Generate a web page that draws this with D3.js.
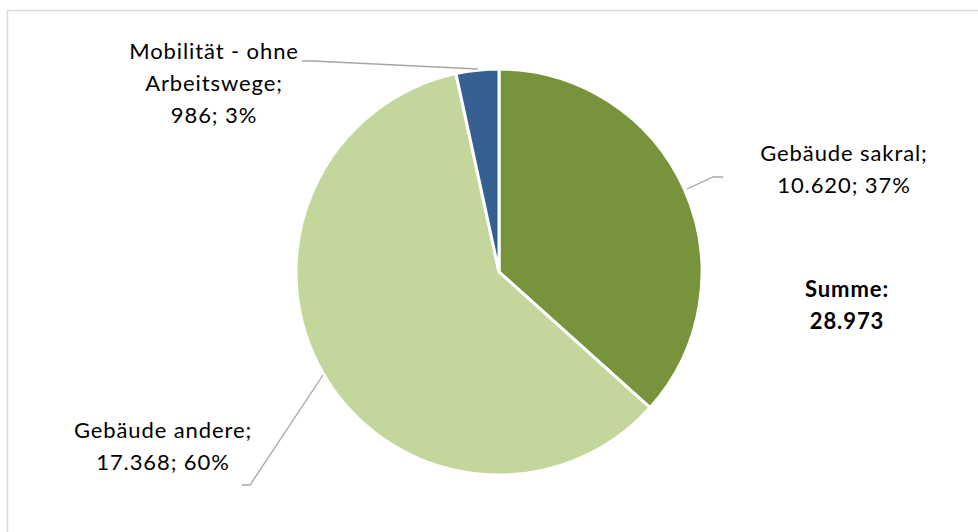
<!DOCTYPE html>
<html>
<head>
<meta charset="utf-8">
<script src="https://cdn.jsdelivr.net/npm/d3@7/dist/d3.min.js"></script>
<style>
  html, body { margin: 0; padding: 0; background: #fff; }
  svg { display: block; }
  text { font-family: Lato, "Open Sans", sans-serif; fill: #000; }
</style>
</head>
<body>
<svg id="chart" width="978" height="532"></svg>
<script>
// Emissions by category (t CO2)
const categories = ["Gebäude sakral", "Gebäude andere", "Mobilität - ohne Arbeitswege"];
const values = [10620, 17368, 986];
const percents = [37, 60, 3];
const valueLabels = ["10.620", "17.368", "986"];
const colors = ["#77933c", "#c3d69b", "#376092"];
const totalLabel = ["Summe:", "28.973"];

// Label text lines per slice
const labelLines = [
  ["Gebäude sakral;", valueLabels[0] + "; " + percents[0] + "%"],
  ["Gebäude andere;", valueLabels[1] + "; " + percents[1] + "%"],
  ["Mobilität - ohne", "Arbeitswege;", valueLabels[2] + "; " + percents[2] + "%"]
];
const labelPos = [
  { x: 844, y: 161 },
  { x: 163, y: 438 },
  { x: 214, y: 59 }
];
const leaders = [
  [[723, 177], [713, 177], [687, 189]],
  [[242, 485], [250, 485], [323, 375]],
  [[302, 61], [313, 61], [478, 69]]
];

const svg = d3.select("#chart");

// chart area frame
svg.append("rect")
  .attr("x", 7.5).attr("y", 10.5)
  .attr("width", 1000).attr("height", 600)
  .attr("fill", "#fff")
  .attr("stroke", "#d9d9d9")
  .attr("stroke-width", 1.5);

const cx = 499, cy = 272, r = 203;
const pie = d3.pie().sort(null).value(d => d);
const arc = d3.arc().innerRadius(0).outerRadius(r);

const g = svg.append("g").attr("transform", `translate(${cx},${cy})`);
g.selectAll("path")
  .data(pie(values))
  .join("path")
  .attr("d", arc)
  .attr("fill", (d, i) => colors[i])
  .attr("stroke", "#fff")
  .attr("stroke-width", 3)
  .attr("stroke-linejoin", "round");

// leader lines
const line = d3.line();
svg.selectAll("path.leader")
  .data(leaders)
  .join("path")
  .attr("class", "leader")
  .attr("d", line)
  .attr("fill", "none")
  .attr("stroke", "#a6a6a6")
  .attr("stroke-width", 1.3);

// data labels
labelLines.forEach((lines, i) => {
  const t = svg.append("text")
    .attr("text-anchor", "middle")
    .attr("font-size", 22)
    .attr("letter-spacing", 0.9);
  lines.forEach((s, k) => {
    t.append("tspan")
      .attr("x", labelPos[i].x)
      .attr("y", labelPos[i].y + k * 32)
      .text(s);
  });
});

// total
const tt = svg.append("text")
  .attr("text-anchor", "middle")
  .attr("font-size", 22)
  .attr("letter-spacing", 0.9)
  .attr("font-weight", "bold");
totalLabel.forEach((s, k) => {
  tt.append("tspan").attr("x", 847).attr("y", 297 + k * 32).text(s);
});
</script>
</body>
</html>
